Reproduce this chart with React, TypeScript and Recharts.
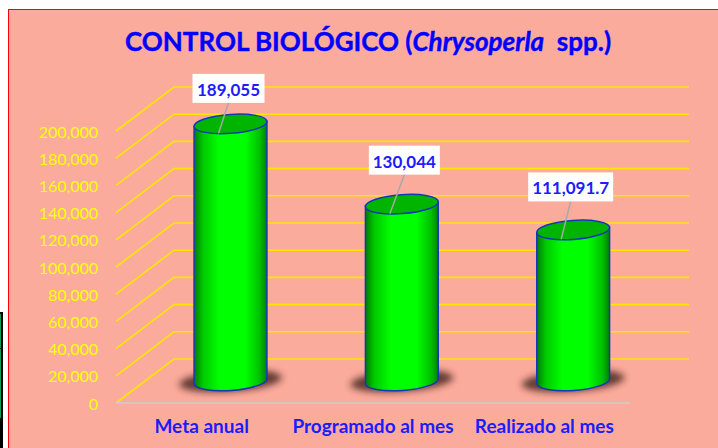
import React from "react";
import { BarChart, Bar, XAxis, YAxis, CartesianGrid, LabelList } from "recharts";

const categories = ["Meta anual", "Programado al mes", "Realizado al mes"];
const values = [189055, 130044, 111091.7];
const yTicks = [0, 20000, 40000, 60000, 80000, 100000, 120000, 140000, 160000, 180000, 200000];
const labelDx = [-2, 2.5, -2.5];
const labelDy = [-35.5, -44, -43];
const labelW = [72, 71, 85];

const rows = categories.map((name, i) => ({ name, value: values[i] }));
const fmt = (v: number) => v.toLocaleString("en-US", { maximumFractionDigits: 1 });

const FONT = "Lato, 'Noto Sans', sans-serif";
const BLUE = "#0000ff";
const DEPTH_X = 58;
const DEPTH_Y = 44;
const ROT = -4;

function Cylinder(props: any) {
  const { x, y, width, height } = props;
  const cx = x + width / 2 + DEPTH_X / 2;
  const top = y - DEPTH_Y / 2;
  const base = y + height - DEPTH_Y / 2;
  const rx = width / 2;
  const ry = 9.5;
  const t = (ROT * Math.PI) / 180;
  const ex = rx * Math.cos(t);
  const ey = rx * Math.sin(t);
  return (
    <g>
      <ellipse cx={cx} cy={base} rx={rx + 15} ry={ry + 1} fill="#3a1d14" opacity={0.8} filter="url(#cylShadow)" transform={`rotate(${ROT} ${cx} ${base})`} />
      <path
        d={`M${cx - ex} ${top - ey} L${cx - ex} ${base - ey} A${rx} ${ry} ${ROT} 0 0 ${cx + ex} ${base + ey} L${cx + ex} ${top + ey} Z`}
        fill="url(#cylBody)"
        stroke="#1238b8"
        strokeWidth={1.5}
      />
      <ellipse cx={cx} cy={top} rx={rx} ry={ry} fill="#00b400" stroke="#1238b8" strokeWidth={1.5} transform={`rotate(${ROT} ${cx} ${top})`} />
    </g>
  );
}

function Callout(props: any) {
  const { x, y, width, index, value } = props;
  const cx = x + width / 2 + DEPTH_X / 2;
  const top = y - DEPTH_Y / 2;
  const bx = cx + labelDx[index];
  const by = top + labelDy[index];
  const w = labelW[index];
  return (
    <g>
      <line x1={bx} y1={by + 14.5} x2={cx - 12} y2={top + 9.5} stroke="#a8a8a8" strokeWidth={1.5} />
      <rect x={bx - w / 2} y={by - 14.5} width={w} height={29} fill="#ffffff" />
      <text x={bx} y={by + 7.5} textAnchor="middle" fontFamily={FONT} fontWeight={700} fontSize={17} fill="#1c1cff">
        {fmt(value)}
      </text>
    </g>
  );
}

function GridLine(props: any) {
  const { x1, y1, x2 } = props;
  return (
    <polyline
      points={`${x1},${y1} ${x1 + DEPTH_X},${y1 - DEPTH_Y} ${x2 + DEPTH_X + 1},${y1 - DEPTH_Y}`}
      fill="none"
      stroke="#ffe600"
      strokeWidth={1.6}
    />
  );
}

export default function App() {
  return (
    <div style={{ position: "absolute", left: 0, top: 0, width: 718, height: 448, overflow: "hidden", background: "#ffffff" }}>
      <div style={{ position: "absolute", left: 0, top: 312, width: 3, height: 136, background: "#000" }} />
      <div style={{ position: "absolute", left: 0, top: 314, width: 1, height: 34, background: "#00a050" }} />
      <div style={{ position: "absolute", left: 0, top: 349, width: 1, height: 69, background: "#00a050" }} />
      <div
        style={{
          position: "absolute",
          left: 8,
          top: 9,
          width: 710,
          height: 439,
          boxSizing: "border-box",
          background: "#fbab9c",
          borderLeft: "1.5px solid #ff0000",
          borderTop: "1.5px solid #ff0000",
        }}
      />
      <div style={{ position: "absolute", left: 0, top: 0 }}>
        <BarChart
          width={718}
          height={448}
          data={rows}
          margin={{ top: 131, right: 88, bottom: 0, left: 0 }}
          barCategoryGap="29%"
        >
          <defs>
            <linearGradient id="cylBody" x1="0" y1="0" x2="1" y2="0">
              <stop offset="0" stopColor="#007a00" />
              <stop offset="0.12" stopColor="#00c800" />
              <stop offset="0.35" stopColor="#00ff00" />
              <stop offset="0.7" stopColor="#00ff00" />
              <stop offset="0.9" stopColor="#00c000" />
              <stop offset="1" stopColor="#008000" />
            </linearGradient>
            <filter id="cylShadow" x="-30%" y="-80%" width="160%" height="260%">
              <feGaussianBlur stdDeviation="3.5" />
            </filter>
          </defs>
          <CartesianGrid vertical={false} horizontal={GridLine as any} />
          <XAxis
            dataKey="name"
            height={45}
            axisLine={{ stroke: "#d8c4c0", strokeWidth: 2 }}
            tickLine={false}
            tickSize={0}
            tickMargin={17}
            interval={0}
            tick={{ fill: "#1c1cff", fontFamily: FONT, fontWeight: 700, fontSize: 19 }}
          />
          <YAxis
            width={116}
            domain={[0, 200000]}
            ticks={yTicks}
            interval={0}
            axisLine={false}
            tickLine={false}
            tickSize={0}
            tickMargin={18}
            dy={1}
            tickFormatter={(v: number) => fmt(v)}
            tick={{ fill: "#ffff00", fontFamily: FONT, fontSize: 16 }}
          />
          <Bar dataKey="value" barSize={73} isAnimationActive={false} shape={Cylinder as any}>
            <LabelList dataKey="value" content={Callout as any} />
          </Bar>
          <text x={125} y={51} fontFamily={FONT} fontWeight={700} fontSize={26} fill={BLUE} stroke={BLUE} strokeWidth={0.4} style={{ whiteSpace: "pre" }}>
            CONTROL BIOLÓGICO (<tspan fontStyle="italic">Chrysoperla</tspan>  spp.)
          </text>
        </BarChart>
      </div>
    </div>
  );
}
